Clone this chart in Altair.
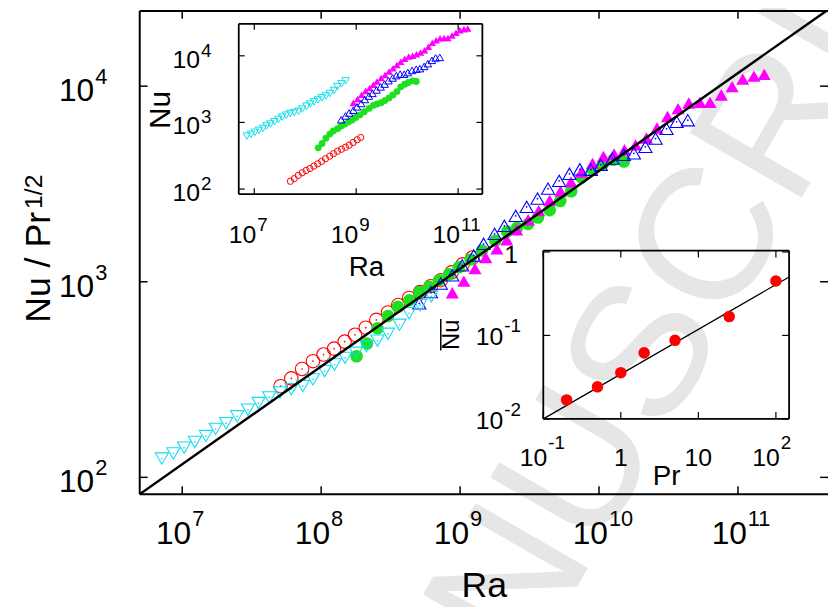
import math
import altair as alt
import pandas as pd

FONT = "Liberation Sans"
W, H = 695, 488

# ---------------- data (log10 values) ----------------
# main panel: log10(Ra), log10(Nu / Pr^1/2)
red_ra = [7.708, 7.785, 7.863, 7.941, 8.017, 8.093, 8.169, 8.244, 8.321, 8.397, 8.481, 8.554,
          8.633, 8.711, 8.789, 8.861, 8.939, 9.018, 9.089]
red_nu = [2.466, 2.506, 2.554, 2.594, 2.628, 2.658, 2.694, 2.729, 2.765, 2.805, 2.843, 2.881,
          2.917, 2.947, 2.977, 3.008, 3.048, 3.089, 3.124]

green_ra = [8.255, 8.330, 8.405, 8.481, 8.552, 8.635, 8.706, 8.777, 8.849, 8.920, 8.991, 9.075,
            9.158, 9.253, 9.338, 9.410, 9.490, 9.561, 9.645, 9.721, 9.800, 9.875, 9.954, 10.025,
            10.103, 10.179]
green_nu = [2.619, 2.684, 2.762, 2.825, 2.872, 2.906, 2.947, 2.975, 3.008, 3.038, 3.074, 3.114,
            3.160, 3.210, 3.256, 3.276, 3.296, 3.328, 3.366, 3.413, 3.463, 3.534, 3.573, 3.599,
            3.624, 3.615]

blue_ra = [8.706, 8.790, 8.861, 8.944, 9.015, 9.098, 9.169, 9.248, 9.319, 9.400, 9.479, 9.557,
           9.633, 9.713, 9.787, 9.862, 9.942, 10.013, 10.096, 10.179, 10.251, 10.334, 10.407,
           10.486, 10.559, 10.639]
blue_nu = [2.890, 2.947, 2.991, 3.033, 3.084, 3.134, 3.194, 3.245, 3.286, 3.337, 3.383, 3.425,
           3.476, 3.516, 3.552, 3.575, 3.573, 3.598, 3.630, 3.649, 3.657, 3.690, 3.732, 3.782,
           3.818, 3.826]

magenta_ra = [8.944, 9.027, 9.107, 9.185, 9.265, 9.336, 9.407, 9.490, 9.566, 9.645, 9.723, 9.798,
              9.873, 9.953, 10.032, 10.108, 10.183, 10.263, 10.341, 10.417, 10.493, 10.569,
              10.646, 10.726, 10.799, 10.880, 10.958, 11.034, 11.115, 11.189]
magenta_nu = [2.944, 3.003, 3.067, 3.124, 3.168, 3.215, 3.266, 3.317, 3.364, 3.416, 3.463, 3.511,
              3.561, 3.605, 3.641, 3.653, 3.675, 3.700, 3.735, 3.786, 3.845, 3.885, 3.914, 3.917,
              3.917, 3.955, 3.998, 4.036, 4.051, 4.060]

cyan_ra = [6.853, 6.936, 7.013, 7.091, 7.170, 7.241, 7.316, 7.395, 7.473, 7.549, 7.626, 7.704,
           7.785, 7.868, 7.941, 8.025, 8.096, 8.172, 8.250, 8.326, 8.405, 8.481, 8.564, 8.633,
           8.713, 8.793]
cyan_nu = [2.096, 2.122, 2.152, 2.181, 2.211, 2.248, 2.277, 2.312, 2.346, 2.380, 2.409, 2.434,
           2.451, 2.467, 2.501, 2.543, 2.577, 2.611, 2.637, 2.670, 2.699, 2.734, 2.780, 2.839,
           2.880, 2.925]

# Prandtl number of each series (upper inset shows Nu itself)
series_names = ["red", "green", "magenta", "blue", "cyan"]
series_pr = [0.2, 1.0, 5.0, 2.0, 25.0]

# fitted line of the main panel (log10 end points)
fit_ra = [6.694, 11.648]
fit_nu = [1.914, 4.391]

# lower inset: Pr vs mean Nu
pr_vals = [0.2, 0.5, 1, 2, 5, 25, 100]
nubar_vals = [0.0169, 0.0242, 0.0358, 0.0618, 0.0873, 0.168, 0.449]
pr_fit = [-1.0, 2.17]
nubar_fit = [-2.0, -0.30]

# axis ticks / labels
main_xticks = [1e7, 1e8, 1e9, 1e10, 1e11]
main_xexp = ["7", "8", "9", "10", "11"]
main_yticks = [1e2, 1e3, 1e4]
main_yexp = ["2", "3", "4"]
in1_xticks = [1e7, 1e9, 1e11]
in1_xexp = ["7", "9", "11"]
in1_yticks = [1e2, 1e3, 1e4]
in1_yexp = ["2", "3", "4"]
in2_xticks = [0.1, 1, 10, 100]
in2_yticks = [0.01, 0.1, 1]

# ---------------- styling ----------------
style = {
    "red": dict(shape="circle", filled=False, color="#ff0000", size=185, isize=40),
    "green": dict(shape="circle", filled=True, color="#1ee01e", size=160, isize=48),
    "magenta": dict(shape="triangle-up", filled=True, color="#ff00ff", size=175, isize=58),
    "blue": dict(shape="triangle-up", filled=False, color="#0000ff", size=175, isize=58),
    "cyan": dict(shape="triangle-down", filled=False, color="#11ddee", size=175, isize=58),
}
raw = {
    "red": (red_ra, red_nu), "green": (green_ra, green_nu), "magenta": (magenta_ra, magenta_nu),
    "blue": (blue_ra, blue_nu), "cyan": (cyan_ra, cyan_nu),
}

main_x = alt.Scale(type="log", domain=[10 ** 6.694, 10 ** 11.648], nice=False)
main_y = alt.Scale(type="log", domain=[10 ** 1.914, 10 ** 4.3848], nice=False)
in1_x = alt.Scale(type="log", domain=[10 ** 6.695, 10 ** 11.476], range=[100, 346], nice=False)
in1_y = alt.Scale(type="log", domain=[10 ** 1.924, 10 ** 4.481], range=[185, 13], nice=False)
in2_x = alt.Scale(type="log", domain=[0.1, 10 ** 2.17], range=[407.5, 655.7], nice=False)
in2_y = alt.Scale(type="log", domain=[0.01, 10 ** 0.0166], range=[412, 242], nice=False)


def one_row(**kw):
    return pd.DataFrame({k: [v] for k, v in kw.items()} or {"a": [0]})


def hline(x1, x2, y, w=2.0):
    return alt.Chart(one_row(a=0)).mark_rule(color="black", strokeWidth=w).encode(
        x=alt.value(x1), x2=alt.value(x2), y=alt.value(y))


def vline(x, y1, y2, w=2.0):
    return alt.Chart(one_row(a=0)).mark_rule(color="black", strokeWidth=w).encode(
        x=alt.value(x), y=alt.value(y1), y2=alt.value(y2))


def xticks(vals, scale, y1, y2, w=1.5):
    return alt.Chart(pd.DataFrame({"v": vals})).mark_rule(color="black", strokeWidth=w).encode(
        x=alt.X("v:Q", scale=scale, axis=None), y=alt.value(y1), y2=alt.value(y2))


def yticks(vals, scale, x1, x2, w=1.5):
    return alt.Chart(pd.DataFrame({"v": vals})).mark_rule(color="black", strokeWidth=w).encode(
        y=alt.Y("v:Q", scale=scale, axis=None), x=alt.value(x1), x2=alt.value(x2))


def xlabels(vals, texts, scale, ypos, size, align, dx=0):
    return alt.Chart(pd.DataFrame({"v": vals, "t": texts})).mark_text(
        font=FONT, fontSize=size, align=align, dx=dx, baseline="alphabetic", color="black").encode(
        x=alt.X("v:Q", scale=scale, axis=None), y=alt.value(ypos), text="t:N")


def ylabels(vals, texts, scale, xpos, size, align, dy=0):
    return alt.Chart(pd.DataFrame({"v": vals, "t": texts})).mark_text(
        font=FONT, fontSize=size, align=align, dy=dy, baseline="alphabetic", color="black").encode(
        y=alt.Y("v:Q", scale=scale, axis=None), x=alt.value(xpos), text="t:N")


def free_text(txt, x, y, size, align="center", angle=0, color="black"):
    return alt.Chart(one_row(t=txt)).mark_text(
        font=FONT, fontSize=size, align=align, angle=angle, baseline="alphabetic", color=color).encode(
        x=alt.value(x), y=alt.value(y), text="t:N")


# ---------------- watermark ----------------
watermark = free_text("ACCEPTED MANUSCRIPT", 877, -173, 190, align="right", angle=300, color="#e6e6e6")

# ---------------- main panel ----------------
main_layers = []
for name in series_names:
    ra, nu = raw[name]
    st = style[name]
    df = pd.DataFrame({"ra": [10 ** v for v in ra], "nu": [10 ** v for v in nu]})
    enc = dict(x=alt.X("ra:Q", scale=main_x, axis=None), y=alt.Y("nu:Q", scale=main_y, axis=None))
    if st["filled"]:
        main_layers.append(alt.Chart(df).mark_point(shape=st["shape"], filled=True, color=st["color"],
                                                    size=st["size"], opacity=1, strokeWidth=0).encode(**enc))
    else:
        main_layers.append(alt.Chart(df).mark_point(shape=st["shape"], filled=False, color=st["color"],
                                                    size=st["size"], opacity=1, strokeWidth=1.1).encode(**enc))
        main_layers.append(alt.Chart(df).mark_circle(color=st["color"], size=3, opacity=1).encode(**enc))

fit_df = pd.DataFrame({"ra": [10 ** v for v in fit_ra], "nu": [10 ** v for v in fit_nu]})
main_layers.append(alt.Chart(fit_df).mark_line(color="black", strokeWidth=2.4, clip=True).encode(
    x=alt.X("ra:Q", scale=main_x, axis=None), y=alt.Y("nu:Q", scale=main_y, axis=None)))

main_layers += [
    hline(0, W, H), hline(0, W, 0), vline(0, 0, H),
    xticks(main_xticks, main_x, H, H - 8), xticks(main_xticks, main_x, 0, 8),
    yticks(main_yticks, main_y, 0, 8), yticks(main_yticks, main_y, W - 8, W),
    xlabels(main_xticks, ["10"] * 5, main_x, 538, 32, "right", dx=9),
    xlabels(main_xticks, main_xexp, main_x, 520, 22, "left", dx=10),
    ylabels(main_yticks, ["10"] * 3, main_y, -46, 32, "right", dy=15),
    ylabels(main_yticks, main_yexp, main_y, -45, 22, "left", dy=-2),
    free_text("Ra", 348, 592, 36),
    free_text("Nu / Pr", -91, 315, 36, align="left", angle=270),
    free_text("1/2", -99, 200, 25, align="left", angle=270),
]
main = alt.layer(*main_layers)

# ---------------- upper inset: Nu vs Ra ----------------
in1_layers = []
for name, pr in zip(series_names, series_pr):
    ra, nu = raw[name]
    st = style[name]
    shift = 0.5 * math.log10(pr)
    df = pd.DataFrame({"ra": [10 ** v for v in ra], "nu": [10 ** (v + shift) for v in nu]})
    enc = dict(x=alt.X("ra:Q", scale=in1_x, axis=None), y=alt.Y("nu:Q", scale=in1_y, axis=None))
    if st["filled"]:
        in1_layers.append(alt.Chart(df).mark_point(shape=st["shape"], filled=True, color=st["color"],
                                                   size=st["isize"], opacity=1, strokeWidth=0).encode(**enc))
    else:
        in1_layers.append(alt.Chart(df).mark_point(shape=st["shape"], filled=False, color=st["color"],
                                                   size=st["isize"], opacity=1, strokeWidth=1.0).encode(**enc))
in1_layers += [
    hline(100, 346, 13, 1.8), hline(100, 346, 185, 1.8), vline(100, 13, 185, 1.8), vline(346, 13, 185, 1.8),
    xticks(in1_xticks, in1_x, 185, 179, 1.2), xticks(in1_xticks, in1_x, 13, 19, 1.2),
    yticks(in1_yticks, in1_y, 100, 106, 1.2), yticks(in1_yticks, in1_y, 340, 346, 1.2),
    xlabels(in1_xticks, ["10"] * 3, in1_x, 234, 25, "right", dx=2),
    xlabels(in1_xticks, in1_xexp, in1_x, 222, 19, "left", dx=3),
    ylabels(in1_yticks, ["10"] * 3, in1_y, 61, 25, "right", dy=12),
    ylabels(in1_yticks, in1_yexp, in1_y, 62, 19, "left", dy=1),
    free_text("Ra", 229, 268, 28),
    free_text("Nu", 31, 100, 30, angle=270),
]
inset1 = alt.layer(*in1_layers)

# ---------------- lower inset: mean Nu vs Pr ----------------
pr_df = pd.DataFrame({"pr": pr_vals, "nb": nubar_vals})
prfit_df = pd.DataFrame({"pr": [10 ** v for v in pr_fit], "nb": [10 ** v for v in nubar_fit]})
in2_layers = [
    alt.Chart(prfit_df).mark_line(color="black", strokeWidth=1.3).encode(
        x=alt.X("pr:Q", scale=in2_x, axis=None), y=alt.Y("nb:Q", scale=in2_y, axis=None)),
    alt.Chart(pr_df).mark_point(shape="circle", filled=True, color="#ff0000", size=135, opacity=1,
                                strokeWidth=0).encode(
        x=alt.X("pr:Q", scale=in2_x, axis=None), y=alt.Y("nb:Q", scale=in2_y, axis=None)),
    hline(407.5, 655.7, 242, 1.8), hline(407.5, 655.7, 412, 1.8),
    vline(407.5, 242, 412, 1.8), vline(655.7, 242, 412, 1.8),
    xticks(in2_xticks, in2_x, 412, 405, 1.2), xticks(in2_xticks, in2_x, 242, 249, 1.2),
    yticks(in2_yticks, in2_y, 407.5, 414.5, 1.2), yticks(in2_yticks, in2_y, 648.7, 655.7, 1.2),
    xlabels([0.1, 100], ["10", "10"], in2_x, 460, 25, "right", dx=4),
    xlabels([0.1, 100], ["-1", "2"], in2_x, 442, 19, "left", dx=5),
    xlabels([1, 10], ["1", "10"], in2_x, 460, 25, "center"),
    ylabels([0.01, 0.1], ["10", "10"], in2_y, 367, 25, "right", dy=10),
    ylabels([0.01, 0.1], ["-2", "-1"], in2_y, 368, 19, "left", dy=-3),
    ylabels([1], ["1"], in2_y, 382, 25, "right", dy=11),
    free_text("Pr", 532, 479, 28),
    free_text("Nu", 322, 327, 24, angle=270),
    vline(304, 311, 343, 1.5),
]
inset2 = alt.layer(*in2_layers)

chart = alt.layer(watermark, main, inset1, inset2).resolve_scale(
    x="independent", y="independent"
).properties(
    width=W, height=H,
    autosize=alt.AutoSizeParams(type="none"),
    padding={"left": 133, "top": 0, "right": 0, "bottom": 111},
).configure_view(stroke=None)

chart.save("out.html", embed_options={"renderer": "svg", "actions": False})
